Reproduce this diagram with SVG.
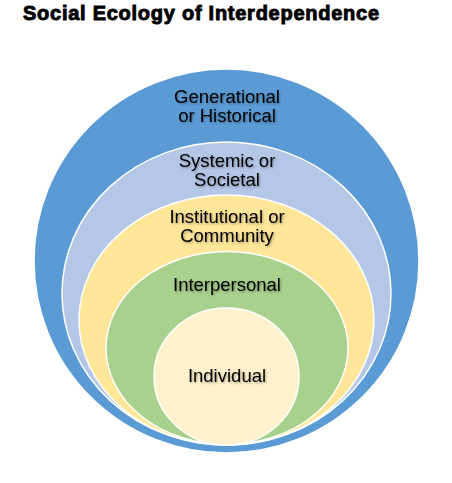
<svg xmlns="http://www.w3.org/2000/svg" width="452" height="483" viewBox="0 0 452 483">
<defs>
<filter id="sh" x="-10%" y="-30%" width="120%" height="160%">
<feDropShadow dx="1" dy="1.2" stdDeviation="0.8" flood-color="#000" flood-opacity="0.35"/>
</filter>
</defs>
<style>
.ring{stroke:#ffffff;stroke-width:1.5}
.lbl{font-family:"Liberation Sans",Arial,sans-serif;font-size:18.5px;fill:#000;text-anchor:middle;filter:url(#sh)}
.title{font-family:"Liberation Sans",Arial,sans-serif;font-size:20px;font-weight:bold;fill:#000;stroke:#000;stroke-width:0.9}
</style>
<rect width="452" height="483" fill="#ffffff"/>
<text class="title" x="23" y="20" textLength="356" lengthAdjust="spacing">Social Ecology of Interdependence</text>
<g id="generational">
<ellipse class="ring" cx="226.5" cy="261" rx="192.5" ry="192" fill="#5b9bd5"/>
<text class="lbl" x="227" y="103">Generational</text>
<text class="lbl" x="227" y="122">or Historical</text>
</g>
<g id="systemic">
<ellipse class="ring" cx="226.5" cy="293.5" rx="164.5" ry="151.5" fill="#b4c7e7"/>
<text class="lbl" x="227" y="167">Systemic or</text>
<text class="lbl" x="227" y="186">Societal</text>
</g>
<g id="institutional">
<ellipse class="ring" cx="226.5" cy="320" rx="147.5" ry="125" fill="#ffe699"/>
<text class="lbl" x="227" y="223">Institutional or</text>
<text class="lbl" x="227" y="242">Community</text>
</g>
<g id="interpersonal">
<ellipse class="ring" cx="227" cy="348" rx="121" ry="96.5" fill="#a9d18e"/>
<text class="lbl" x="227" y="291">Interpersonal</text>
</g>
<g id="individual">
<ellipse class="ring" cx="226.5" cy="376.5" rx="72.5" ry="68.5" fill="#fff2cc"/>
<text class="lbl" x="227" y="382">Individual</text>
</g>
<g id="connectors"></g>
</svg>
